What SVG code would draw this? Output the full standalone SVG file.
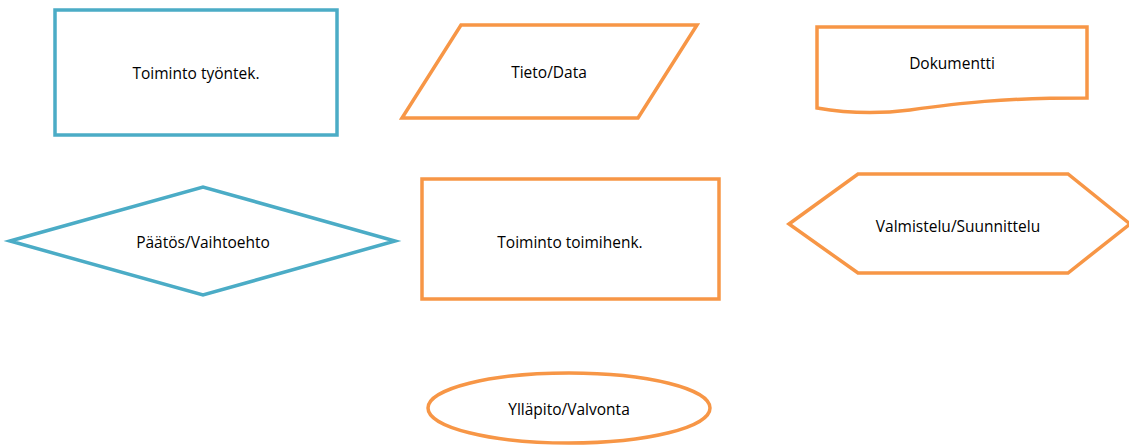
<svg xmlns="http://www.w3.org/2000/svg" width="1129" height="445" viewBox="0 0 1129 445">
<style>
.b{fill:#fff;stroke:#4BACC6;stroke-width:3.5}
.o{fill:#fff;stroke:#F79646;stroke-width:3.5}
text{font-family:"Open Sans","Liberation Sans",sans-serif;font-size:15.5px;fill:#000;text-anchor:middle;dominant-baseline:central}
</style>
<rect width="1129" height="445" fill="#fff"/>
<g id="n1"><rect class="b" x="55" y="10" width="282" height="125"/><text x="196" y="73">Toiminto työntek.</text></g>
<g id="n2"><polygon class="o" points="461,25 697,25 638,118 402,118"/><text x="549" y="72">Tieto/Data</text></g>
<g id="n3"><path class="o" d="M817,27 H1087 V98 C1000,98 960,103 910,110 C870,115 840,112 817,108 Z"/><text x="952" y="63">Dokumentti</text></g>
<g id="n4"><polygon class="b" points="10,241 203,187 395,241 203,295"/><text x="203" y="242">Päätös/Vaihtoehto</text></g>
<g id="n5"><rect class="o" x="422" y="179" width="297" height="120"/><text x="570" y="242">Toiminto toimihenk.</text></g>
<g id="n6"><polygon class="o" points="789,224 858,174 1068,174 1130,224 1068,273 858,273"/><text x="958" y="226">Valmistelu/Suunnittelu</text></g>
<g id="n7"><ellipse class="o" cx="569" cy="408" rx="141" ry="35"/><text x="569" y="409">Ylläpito/Valvonta</text></g>
<g id="connectors"></g>
</svg>
